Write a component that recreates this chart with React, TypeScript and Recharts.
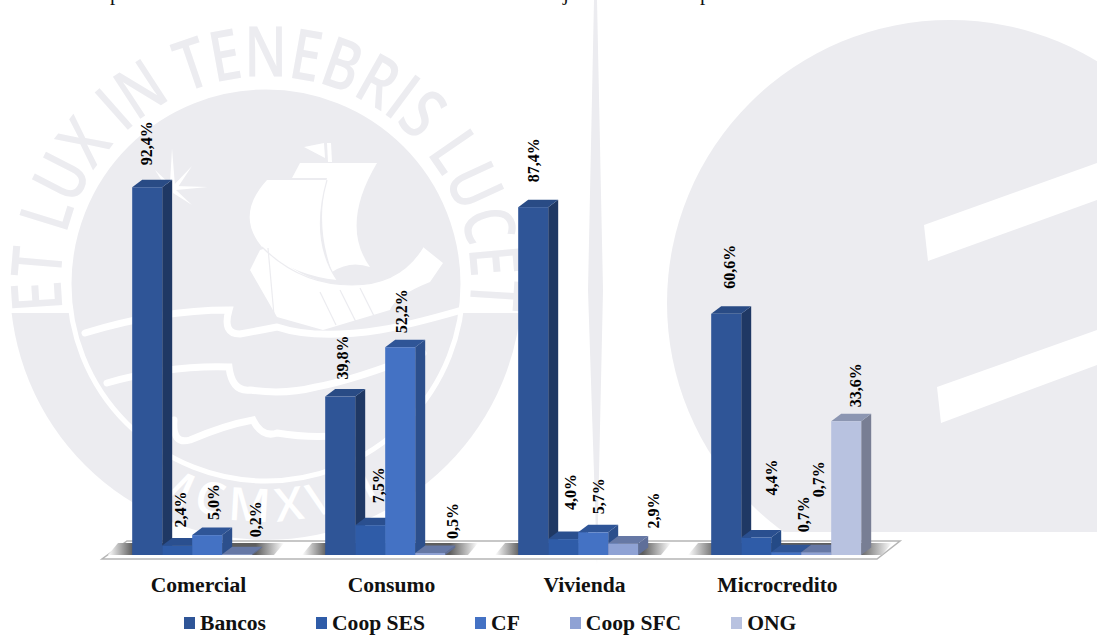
import React from "react";
import { BarChart, Bar, XAxis, YAxis, Legend, LabelList } from "recharts";

// Participation by credit type and institution, in percent
const categories = ["Comercial", "Consumo", "Vivienda", "Microcredito"];
const bancos = [92.4, 39.8, 87.4, 60.6];
const coopSes = [2.4, 7.5, 4.0, 4.4];
const cf = [5.0, 52.2, 5.7, 0.7];
const coopSfc = [0.2, 0.5, 2.9, 0.7];
const ong = [null, null, null, 33.6];

const rows = categories.map((category, i) => ({
  category,
  bancos: bancos[i],
  coopSes: coopSes[i],
  cf: cf[i],
  coopSfc: coopSfc[i],
  ong: ong[i],
}));

// Hand-placed data labels: sideways shift and distance above the bar, per category.
// ONG has a single visible column, so every slot carries the same placement.
const labelPlacement: Record<string, [number, number][]> = {
  bancos: [[-1, 22], [2, 17], [0, 25], [3, 25]],
  coopSes: [[3, 18], [8, 22], [7, 29], [15, 42]],
  cf: [[6, 15], [1, 14], [5, 18], [17, 20]],
  coopSfc: [[18, 17], [22, 14], [30, 15], [2, 55]],
  ong: [[9, 14], [9, 14], [9, 14], [9, 14]],
};

const seriesStyles = [
  { key: "bancos", name: "Bancos", fill: "#2F5597", top: "#294B85", side: "#1F3864" },
  { key: "coopSes", name: "Coop SES", fill: "#2F5CA8", top: "#2A4F8F", side: "#244A86" },
  { key: "cf", name: "CF", fill: "#4472C4", top: "#2F5597", side: "#2C4F8C" },
  { key: "coopSfc", name: "Coop SFC", fill: "#8FA2D4", top: "#6678A5", side: "#5F6F99" },
  { key: "ong", name: "ONG", fill: "#B8C2E0", top: "#8C96B2", side: "#787E94" },
];

const DEPTH_X = 10;
const DEPTH_Y = 7.5;
const SERIF = "'Liberation Serif', serif";
const MARK = "#ECECF0";

const formatPercent = (v: number) => `${v.toFixed(1).replace(".", ",")}%`;

// Extruded column: front face plus top and side faces
const Column3D = (style: { fill: string; top: string; side: string }) => (props: any) => {
  const { x, y, width, height } = props;
  if (height == null || width == null || Number.isNaN(height)) return null;
  const r = x + width;
  const b = y + height;
  return (
    <g>
      <polygon
        points={`${r},${y} ${r + DEPTH_X},${y - DEPTH_Y} ${r + DEPTH_X},${b - DEPTH_Y} ${r},${b}`}
        fill={style.side}
      />
      <polygon
        points={`${x},${y} ${x + DEPTH_X},${y - DEPTH_Y} ${r + DEPTH_X},${y - DEPTH_Y} ${r},${y}`}
        fill={style.top}
      />
      <rect x={x} y={y} width={width} height={height} fill={style.fill} />
    </g>
  );
};

const rotatedLabel = (seriesKey: string) => (props: any) => {
  const { x, y, width, value, index } = props;
  if (value == null) return null;
  const [dx, gap] = labelPlacement[seriesKey][index];
  const lx = x + width / 2 + dx;
  const ly = y - gap;
  return (
    <text
      x={lx}
      y={ly}
      transform={`rotate(-90 ${lx} ${ly})`}
      dominantBaseline="central"
      fontFamily={SERIF}
      fontWeight="bold"
      fontSize={16}
      fill="#000"
    >
      {formatPercent(value)}
    </text>
  );
};

const CategoryTick = (props: any) => (
  <text
    x={props.x - 8}
    y={592}
    textAnchor="middle"
    fontFamily={SERIF}
    fontWeight="bold"
    fontSize={21.6}
    fill="#111"
  >
    {props.payload.value}
  </text>
);

const LegendRow = ({ payload }: any) => (
  <div style={{ display: "flex", alignItems: "center", gap: 50, whiteSpace: "nowrap" }}>
    {(payload || []).map((entry: any) => (
      <div key={entry.value} style={{ display: "flex", alignItems: "center", gap: 5 }}>
        <span style={{ width: 11, height: 12, background: entry.color, display: "block" }} />
        <span style={{ fontFamily: SERIF, fontWeight: "bold", fontSize: 21.6, color: "#111", lineHeight: "24px" }}>
          {entry.value}
        </span>
      </div>
    ))}
  </div>
);

// Floor shadows span each cluster of columns
const floorShadows: [number, number][] = [
  [108, 284],
  [302, 478],
  [495, 671],
  [688, 892],
];

const Backdrop = () => (
  <svg width={1097} height={635} style={{ position: "absolute", left: 0, top: 0 }}>
    <defs>
      <path id="sealTop" d="M 63 310 A 205 205 0 1 1 469 310" />
      <path id="sealBottom" d="M 65 411 A 238 238 0 0 0 467 411" />
      <clipPath id="lowerHalf">
        <rect x={0} y={313} width={600} height={322} />
      </clipPath>
      <clipPath id="emblemClip">
        <rect x={600} y={0} width={497} height={532} />
      </clipPath>
      <linearGradient id="floorShade" x1="0" x2="1" y1="0" y2="0">
        <stop offset="0" stopColor="#fff" />
        <stop offset="0.14" stopColor="#5E5E5E" />
        <stop offset="0.84" stopColor="#5E5E5E" />
        <stop offset="1" stopColor="#fff" />
      </linearGradient>
    </defs>

    {/* Truncated line of running text along the top edge */}
    <g fontFamily={SERIF} fontSize={21} fill="#111">
      <text x={110} y={0}>p</text>
      <text x={563} y={0}>j</text>
      <text x={700} y={0}>p</text>
    </g>

    {/* University seal */}
    <circle cx={266} cy={284} r={256} fill={MARK} clipPath="url(#lowerHalf)" />
    <circle cx={266} cy={284} r={197} fill={MARK} stroke="#fff" strokeWidth={5} />
    <text fontFamily="'Open Sans', sans-serif" fontWeight={600} fontSize={70} fill={MARK}>
      <textPath href="#sealTop" textLength={700} lengthAdjust="spacingAndGlyphs">
        ET LUX IN TENEBRIS LUCET
      </textPath>
    </text>
    <text fontFamily="'Open Sans', sans-serif" fontWeight={600} fontSize={46} fill="#fff" textAnchor="middle" letterSpacing={7}>
      <textPath href="#sealBottom" startOffset="50%">
        MCMXVII
      </textPath>
    </text>
    <g fill="#fff">
      <path d="M267 180 L327 180 Q310 240 337 280 Q290 275 262 247 Q235 215 267 180 Z" />
      <path d="M300 163 L377 163 Q340 225 370 267 Q350 260 332 272 Q315 225 327 178 L292 178 Z" />
      <path d="M304 147 L324 143 L325 158 Z" />
      <path d="M327 143 L331 143 L332 162 L328 162 Z" />
      <path d="M250 270 L260 250 L270 247 Q300 285 352 285 Q400 285 423 247 L443 263 L430 282 Q395 296 390 310 L323 330 L277 317 Z" />
      <path d="M172 148 L175 186 L208 187 L176 190 L192 205 L173 193 L172 280 L169 192 L155 170 L170 184 Z" />
      <path d="M172 187 L192 166 L176 190 Z" />
    </g>
    <g fill="none" stroke={MARK} strokeWidth={1.2}>
      <path d="M327 180 Q310 240 337 280" />
      <path d="M262 247 Q300 285 352 285 Q400 285 423 247" />
      <path d="M268 248 L274 315" />
      <path d="M320 292 L336 325 M340 290 L356 322 M360 288 L374 316" />
    </g>
    <g fill="none" stroke="#fff" strokeWidth={7} strokeLinecap="round">
      <path d="M85 333 Q160 310 229 310 Q222 334 240 334 Q262 330 277 327 Q316 340 380 330 Q410 325 462 310" />
      <path d="M107 383 Q170 365 229 367 Q232 392 250 390 Q285 395 316 387 Q355 380 423 353" />
      <path d="M174 420 Q172 445 190 440 Q225 425 253 420 Q262 438 277 433 Q320 440 355 433" />
    </g>

    {/* Vertical spike between the two marks */}
    <polygon points="594,0 597,0 603,290 597,565 588,290" fill={MARK} />

    {/* Right-hand emblem */}
    <circle cx={950} cy={303} r={283} fill={MARK} clipPath="url(#emblemClip)" />
    <polygon points="924,225 1097,163 1097,200 928,261" fill="#fff" />
    <polygon points="937,387 1097,330 1097,365 941,423" fill="#fff" />

    {/* Floor plate under the columns */}
    <polygon
      points="127,541 900,541 877,559 102,559"
      fill="#fff"
      stroke="#B5B5B5"
      strokeWidth={1.5}
    />
    {floorShadows.map(([a, b]) => (
      <polygon
        key={a}
        points={`${a + 10},543 ${b},543 ${b - 10},555 ${a},555`}
        fill="url(#floorShade)"
      />
    ))}
  </svg>
);

export default function App() {
  return (
    <div style={{ position: "absolute", left: 0, top: 0, width: 1097, height: 635, overflow: "hidden", background: "#fff" }}>
      <Backdrop />
      <div style={{ position: "absolute", left: 0, top: 0 }}>
        <BarChart
          width={1097}
          height={635}
          data={rows}
          margin={{ top: 157, right: 215, bottom: 50, left: 110 }}
          barCategoryGap="11.5%"
          barGap={0}
        >
          <XAxis
            dataKey="category"
            axisLine={false}
            tickLine={false}
            height={30}
            interval={0}
            tick={<CategoryTick />}
          />
          <YAxis hide domain={[0, 100]} />
          <Legend
            layout="horizontal"
            verticalAlign="middle"
            align="center"
            itemSorter={null}
            content={<LegendRow />}
            wrapperStyle={{ position: "absolute", left: 184, top: 611, width: "auto", height: 24 }}
          />
          {seriesStyles.map((s) => (
            <Bar
              key={s.key}
              dataKey={s.key}
              name={s.name}
              fill={s.fill}
              isAnimationActive={false}
              shape={Column3D(s)}
            >
              <LabelList dataKey={s.key} content={rotatedLabel(s.key)} />
            </Bar>
          ))}
        </BarChart>
      </div>
    </div>
  );
}
